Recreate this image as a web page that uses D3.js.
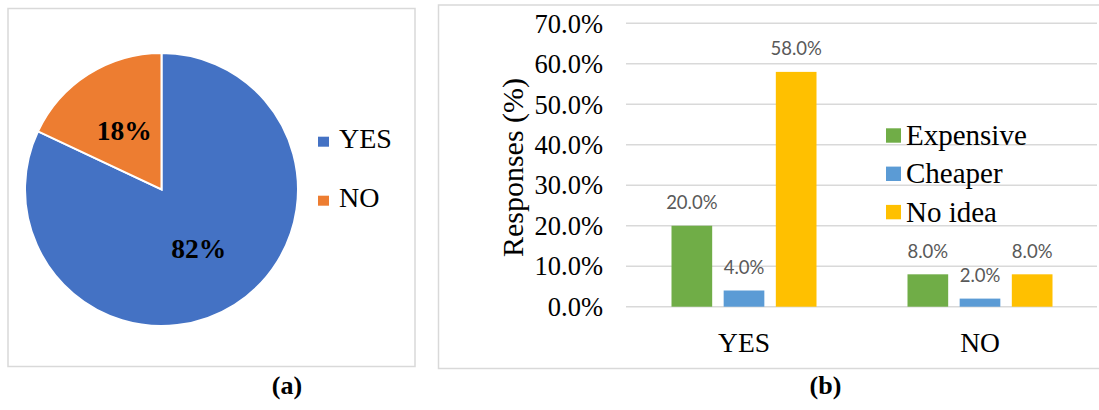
<!DOCTYPE html>
<html>
<head>
<meta charset="utf-8">
<script src="https://cdn.jsdelivr.net/npm/d3@7"></script>
<style>
  html, body { margin: 0; padding: 0; background: #fff; }
  svg { display: block; }
</style>
</head>
<body>
<svg id="fig" width="1099" height="410"></svg>
<script>
// Panel (a): share of respondents
const pieLabels = ["YES", "NO"];
const pieValues = [82, 18];
const pieColors = ["#4472C4", "#ED7D31"];

// Panel (b): perceived price by answer
const categories = ["YES", "NO"];
const seriesNames = ["Expensive", "Cheaper", "No idea"];
const expensive = [20.0, 8.0];
const cheaper = [4.0, 2.0];
const noIdea = [58.0, 8.0];
const seriesColors = ["#70AD47", "#5B9BD5", "#FFC000"];
const yTicks = [0, 10, 20, 30, 40, 50, 60, 70];

const serif = "'Liberation Serif', 'Times New Roman', serif";
const svg = d3.select("#fig");

svg.append("rect").attr("width", 1099).attr("height", 410).attr("fill", "#fff");

// ---------- panel (a) ----------
const pa = svg.append("g");
pa.append("rect")
  .attr("x", 8).attr("y", 8.5).attr("width", 407).attr("height", 358)
  .attr("fill", "none").attr("stroke", "#D9D9D9").attr("stroke-width", 1.5);

const cx = 161.5, cy = 189.5, r = 136.5;
const pie = d3.pie().sort(null).value(d => d);
const arcs = pie(pieValues);
const arc = d3.arc().innerRadius(0).outerRadius(r);
const labelArc = d3.arc().innerRadius(r * 0.51).outerRadius(r * 0.51);

const pieG = pa.append("g").attr("transform", `translate(${cx},${cy})`);
pieG.selectAll("path").data(arcs).join("path")
  .attr("d", arc)
  .attr("fill", (d, i) => pieColors[i])
  .attr("stroke", "#fff").attr("stroke-width", 2);

pieG.selectAll("text").data(arcs).join("text")
  .attr("transform", d => `translate(${labelArc.centroid(d)})`)
  .attr("text-anchor", "middle").attr("dy", "0.35em")
  .attr("font-family", serif).attr("font-weight", "bold").attr("font-size", 27.5)
  .attr("fill", "#000")
  .text(d => d.data + "%");

const pieLegend = pa.append("g");
pieLabels.forEach((lab, i) => {
  const by = 147.7 + i * 59;
  pieLegend.append("rect")
    .attr("x", 318).attr("y", by - 11).attr("width", 11).attr("height", 10)
    .attr("fill", pieColors[i]);
  pieLegend.append("text")
    .attr("x", 339).attr("y", by)
    .attr("font-family", serif).attr("font-size", 28).attr("fill", "#000")
    .text(lab);
});

svg.append("text")
  .attr("x", 287).attr("y", 394).attr("text-anchor", "middle")
  .attr("font-family", serif).attr("font-weight", "bold").attr("font-size", 26)
  .text("(a)");

// ---------- panel (b) ----------
const pb = svg.append("g");
pb.append("rect")
  .attr("x", 438.5).attr("y", 5).attr("width", 700).attr("height", 363.5)
  .attr("fill", "none").attr("stroke", "#D9D9D9").attr("stroke-width", 1.5);

const plotL = 626, plotR = 1098;
const y = d3.scaleLinear().domain([0, 70]).range([306.7, 23.3]);
const x0 = d3.scaleBand().domain(categories).range([plotL, plotR]).padding(0);
const x1 = d3.scaleBand().domain(seriesNames)
  .range([45.5, x0.bandwidth() - 45.5]).paddingInner(0.22).paddingOuter(0);

// gridlines
pb.append("g").selectAll("line").data(yTicks).join("line")
  .attr("x1", plotL).attr("x2", 1097)
  .attr("y1", d => y(d)).attr("y2", d => y(d))
  .attr("stroke", "#D9D9D9").attr("stroke-width", 1.5);

// y axis labels
const yAxis = d3.axisLeft(y).tickValues(yTicks).tickSize(0).tickPadding(0)
  .tickFormat(d => d.toFixed(1) + "%");
const yAxisG = pb.append("g").attr("transform", "translate(603,0)").call(yAxis);
yAxisG.select(".domain").remove();
yAxisG.selectAll("text")
  .attr("font-family", serif).attr("font-size", 26.5).attr("fill", "#000")
  .attr("dy", "0.33em");

// x axis labels
const xAxis = d3.axisBottom(x0).tickSize(0).tickPadding(0);
const xAxisG = pb.append("g").attr("transform", "translate(0,351.7)").call(xAxis);
xAxisG.select(".domain").remove();
xAxisG.selectAll("text")
  .attr("font-family", serif).attr("font-size", 27.5).attr("fill", "#000")
  .attr("dy", 0);

// bars
const seriesValues = [expensive, cheaper, noIdea];
const rows = [];
categories.forEach((c, ci) => {
  seriesNames.forEach((s, si) => {
    rows.push({ cat: c, series: s, value: seriesValues[si][ci], color: seriesColors[si] });
  });
});

const bars = pb.append("g");
bars.selectAll("rect").data(rows).join("rect")
  .attr("x", d => x0(d.cat) + x1(d.series))
  .attr("width", x1.bandwidth())
  .attr("y", d => y(d.value))
  .attr("height", d => y(0) - y(d.value))
  .attr("fill", d => d.color);

bars.selectAll("text").data(rows).join("text")
  .attr("x", d => x0(d.cat) + x1(d.series) + x1.bandwidth() / 2)
  .attr("y", d => y(d.value) - 16.5)
  .attr("text-anchor", "middle")
  .attr("font-family", "Lato, 'Open Sans', sans-serif").attr("font-size", 18.5)
  .attr("fill", "#595959")
  .text(d => d.value.toFixed(1) + "%");

// axis title
pb.append("text")
  .attr("transform", "translate(523,167.5) rotate(-90)")
  .attr("text-anchor", "middle")
  .attr("font-family", serif).attr("font-size", 30).attr("fill", "#000")
  .text("Responses (%)");

// legend
const legend = pb.append("g");
seriesNames.forEach((s, i) => {
  const by = 145 + i * 38.3;
  legend.append("rect")
    .attr("x", 886).attr("y", by - 16.7).attr("width", 15).attr("height", 14.4)
    .attr("fill", seriesColors[i]);
  legend.append("text")
    .attr("x", 906).attr("y", by)
    .attr("font-family", serif).attr("font-size", 29).attr("fill", "#000")
    .text(s);
});

svg.append("text")
  .attr("x", 825.5).attr("y", 394).attr("text-anchor", "middle")
  .attr("font-family", serif).attr("font-weight", "bold").attr("font-size", 26)
  .text("(b)");
</script>
</body>
</html>
